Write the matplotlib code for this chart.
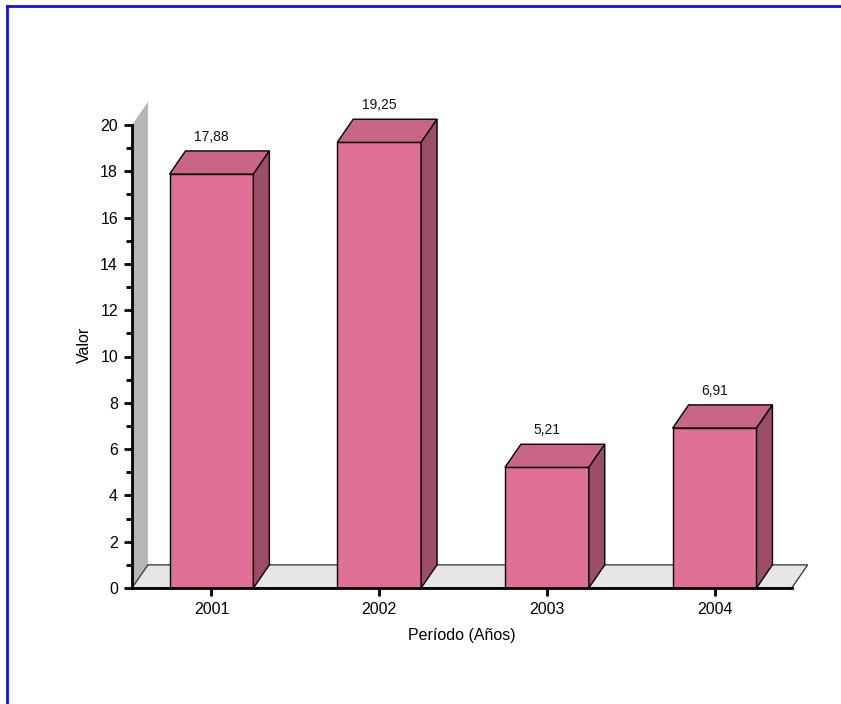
import numpy as np
import matplotlib.pyplot as plt
from matplotlib.patches import Polygon
from matplotlib.lines import Line2D

plt.rcParams['font.family'] = ['Liberation Sans', 'DejaVu Sans']

# --- data ------------------------------------------------------------
years = ["2001", "2002", "2003", "2004"]
values = [17.88, 19.25, 5.21, 6.91]
value_labels = ["17,88", "19,25", "5,21", "6,91"]

# --- style -----------------------------------------------------------
c_front = "#E07095"
c_top = "#C96688"
c_side = "#9C4D68"
c_wall = "#B8B5BA"
c_floor = "#E8E5EA"
dx, dy = 0.095, 1.0          # depth offset (x in category units, y in value units)
bw = 0.5                     # bar width
x0, x1 = -0.474, 3.46        # floor front edge
ymax = 20

W, H = 841, 704
fig = plt.figure(figsize=(W / 100, H / 100), dpi=100)
fig.patch.set_facecolor("white")

# page frame (blue, top and left only)
fig.add_artist(Line2D([7 / W, 1], [1 - 6 / H, 1 - 6 / H], color="#1010F0", lw=2))
fig.add_artist(Line2D([7 / W, 7 / W], [0, 1 - 6 / H], color="#1010F0", lw=2))

ax = fig.add_axes([132 / W, 116 / H, 676 / W, (588 - 101.85) / H])
ax.set_xlim(x0, 3.557)
ax.set_ylim(0, ymax + dy)
ax.patch.set_visible(False)

# back wall and floor
ax.add_patch(Polygon([(x0, 0), (x0 + dx, dy), (x0 + dx, ymax + dy), (x0, ymax)],
                     closed=True, fc=c_wall, ec="none", zorder=1))
ax.add_patch(Polygon([(x0, 0), (x1, 0), (x1 + dx, dy), (x0 + dx, dy)],
                     closed=True, fc=c_floor, ec="#404040", lw=1, zorder=1))

# 3D bars
for i, v in enumerate(values):
    l, r = i - bw / 2, i + bw / 2
    ax.add_patch(Polygon([(l, 0), (r, 0), (r, v), (l, v)],
                         closed=True, fc=c_front, ec="black", lw=1, zorder=3))
    ax.add_patch(Polygon([(l, v), (r, v), (r + dx, v + dy), (l + dx, v + dy)],
                         closed=True, fc=c_top, ec="black", lw=1, zorder=3))
    ax.add_patch(Polygon([(r, 0), (r + dx, dy), (r + dx, v + dy), (r, v)],
                         closed=True, fc=c_side, ec="black", lw=1, zorder=3))
    ax.annotate(value_labels[i], (i, v + dy), xytext=(0, 5), textcoords="offset points",
                ha="center", va="bottom", fontsize=10, color="#111111")

# axes and ticks
for s in ["top", "right"]:
    ax.spines[s].set_visible(False)
ax.spines["left"].set_bounds(0, ymax)
ax.spines["bottom"].set_bounds(x0, x1)
for s in ["left", "bottom"]:
    ax.spines[s].set_linewidth(2)
    ax.spines[s].set_zorder(4)

ax.set_yticks(np.arange(0, ymax + 1, 2))
ax.set_yticks(np.arange(1, ymax, 2), minor=True)
ax.set_xticks(range(len(years)))
ax.set_xticklabels(years)
ax.tick_params(axis="y", which="major", length=6, width=2, labelsize=11.5, pad=4)
ax.tick_params(axis="y", which="minor", length=4.5, width=2)
ax.tick_params(axis="x", length=6, width=2, labelsize=11.5, pad=4)

ax.set_ylabel("Valor", fontsize=11.5, labelpad=6)
ax.set_xlabel("Período (Años)", fontsize=11.5)
ax.xaxis.set_label_coords((462 - 132) / 676, -0.082)

fig.savefig("out.png", dpi=100)
